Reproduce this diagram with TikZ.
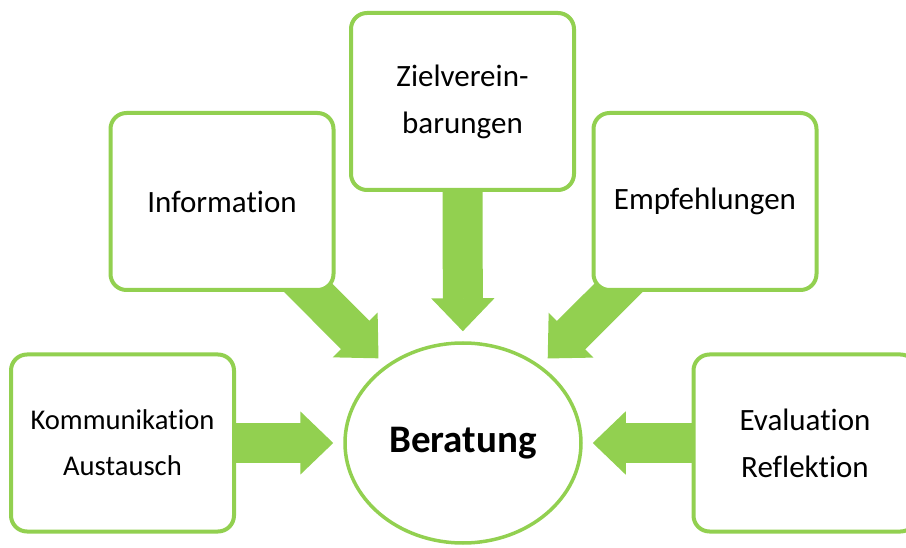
\documentclass[tikz,border=0pt]{standalone}
\usepackage{fontspec}
\setmainfont{Carlito}[Ligatures=NoCommon]
\usetikzlibrary{shapes.geometric,arrows.meta,backgrounds}
\definecolor{leafgreen}{RGB}{146,208,80}

\begin{document}
\begin{tikzpicture}[x=0.5pt, y=0.5pt,
    box/.style={draw=leafgreen, line width=2pt, fill=white, rounded corners=8pt,
      minimum width=111.5pt, minimum height=88.5pt, align=center,
      font=\fontsize{15.5}{23.5}\selectfont},
    hub/.style={ellipse, draw=leafgreen, line width=1.75pt, fill=white,
      minimum width=118pt, minimum height=100pt, inner sep=0pt,
      font=\fontsize{19.5}{24}\selectfont\bfseries},
    bigarrow/.style={leafgreen, line width=20pt, shorten >=5pt,
      -{Triangle[length=16.5pt, width=31.5pt, line width=1pt]}}]
      \useasboundingbox (0, 0) rectangle (906, 547);
      \clip (0, 0) rectangle (906, 547);
      \node[hub] (ber) at (463, 104) {Beratung};
      \node[box, font=\fontsize{14.3}{23}\selectfont] (komm) at (122.5, 104) {Kommunikation\\Austausch};
      \node[box] (info) at (222, 345.5) {Information};
      \node[box] (ziel) at (462.5, 445.5) {Zielverein-\\barungen};
      \node[box] (empf) at (705, 345.5) {Empfehlungen};
      \node[box] (eval) at (805, 104) {Evaluation\\Reflektion};
      \begin{pgfonlayer}{background}
        \draw[bigarrow] (komm.center) -- (ber);
        \draw[bigarrow] (info.center) -- (ber);
        \draw[bigarrow] (ziel.center) -- (ber);
        \draw[bigarrow] (empf.center) -- (ber);
        \draw[bigarrow] (eval.center) -- (ber);
      \end{pgfonlayer}
    \end{tikzpicture}
\end{document}
